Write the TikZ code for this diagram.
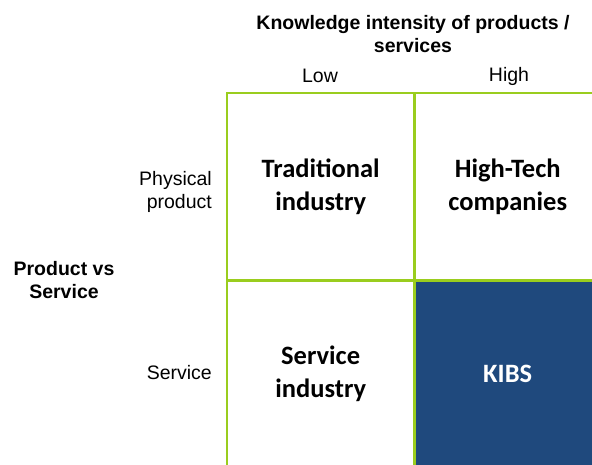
\documentclass[tikz,border=0pt]{standalone}
\usepackage{fontspec}
\setmainfont{Liberation Sans}
\newfontfamily\cellfont{Carlito}
\definecolor{gridgreen}{HTML}{9ACD1E}
\definecolor{kibsblue}{HTML}{1F497D}
\begin{document}
\begin{tikzpicture}[x=1pt,y=-1pt,
  cell/.style={minimum width=187pt,minimum height=187pt,inner sep=0pt,anchor=north west,
    font=\cellfont\fontsize{26.5}{33}\selectfont\bfseries,align=center},
  lab/.style={font=\fontsize{19.5}{23}\selectfont,inner sep=0pt},
  blab/.style={font=\fontsize{19.5}{23}\selectfont\bfseries,inner sep=0pt,align=center},
  gridline/.style={draw=gridgreen,line width=2.6pt}]
\useasboundingbox (0,0) rectangle (592,464);
\node[cell,fill=white] (tl) at (227,93) {Traditional\\industry};
\node[cell,fill=white] (tr) at (414,93) {High-Tech\\companies};
\node[cell,fill=white] (bl) at (227,280) {Service\\industry};
\node[cell,fill=kibsblue,text=white] (br) at (414,280) {KIBS};
\draw[gridline] (tl.north west) rectangle (br.south east);
\draw[gridline] (tl.north east) -- (bl.south east);
\draw[gridline] (tl.south west) -- (tr.south east);
\node[blab] (title) at (413,34) {Knowledge intensity of products /\\services};
\node[lab] (low) at (320,76) {Low};
\node[lab] (high) at (509,76) {High};
\node[lab,align=right,anchor=east] (phys) at (212,192) {Physical\\product};
\node[lab,anchor=east] (serv) at (212,373) {Service};
\node[blab] (pvs) at (64,280) {Product vs\\Service};
\end{tikzpicture}
\end{document}
